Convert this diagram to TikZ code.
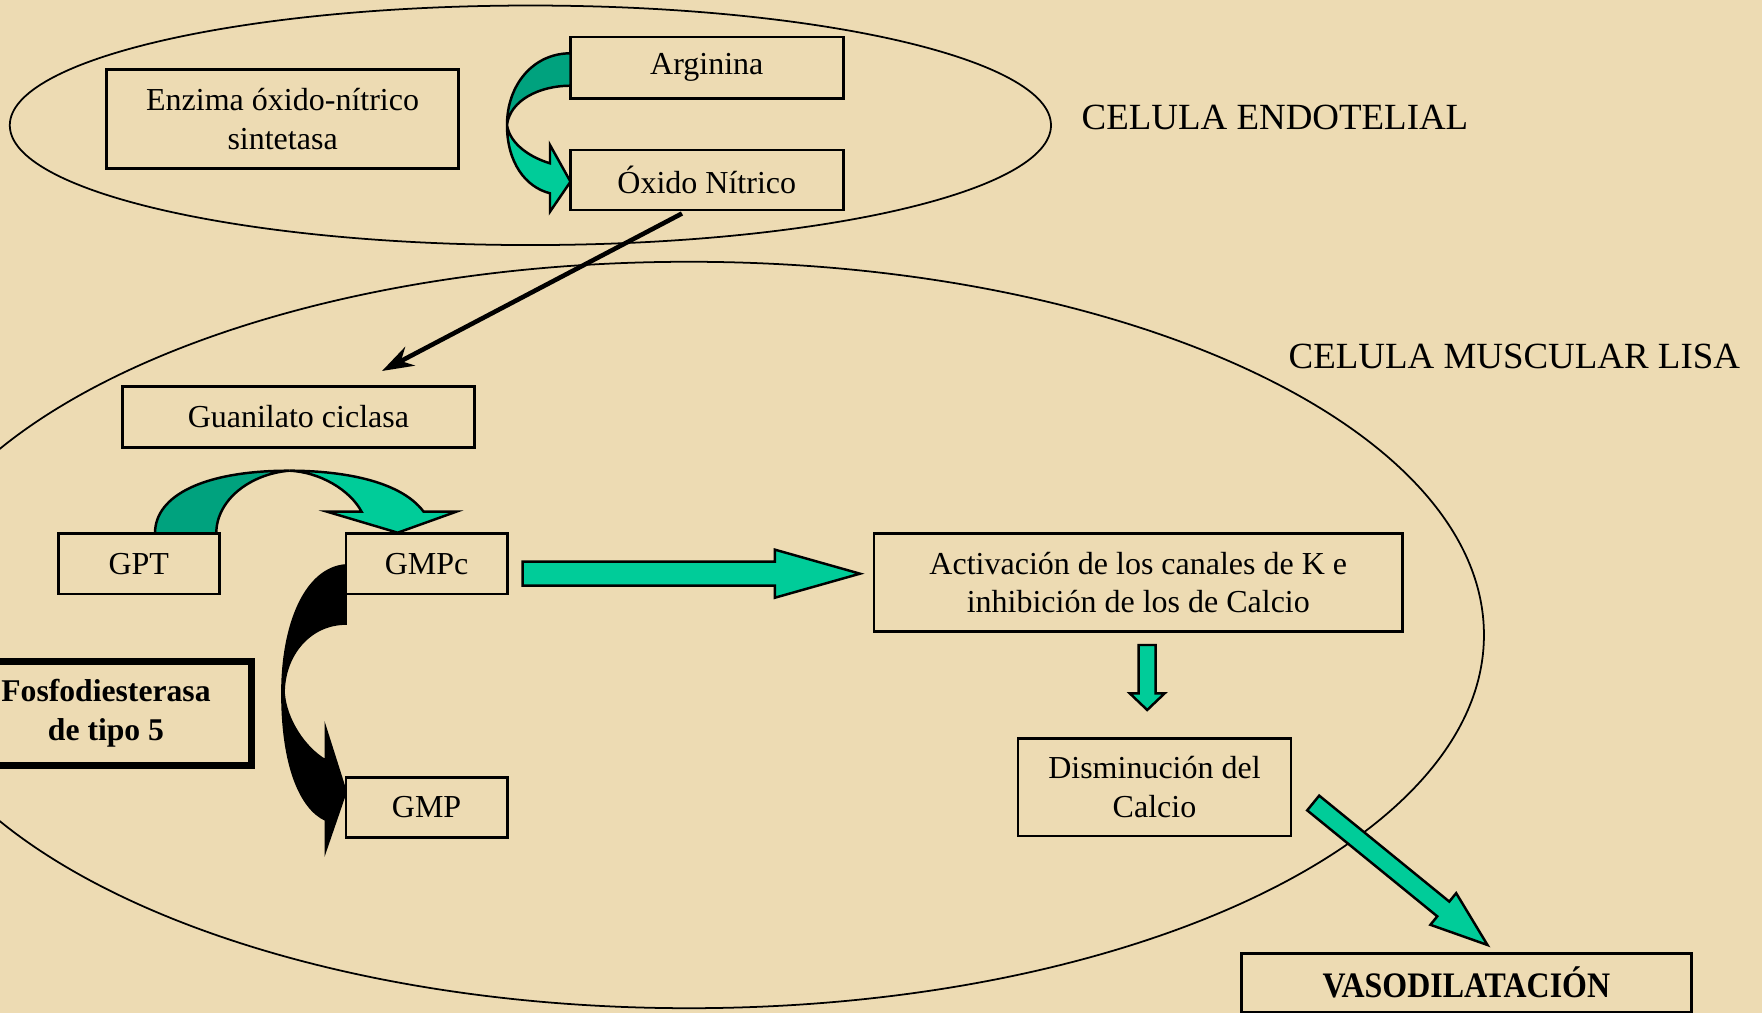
\documentclass[tikz,border=0pt]{standalone}
\usepackage{fontspec}
\setmainfont{Liberation Serif}
\usepackage{graphicx}
\usetikzlibrary{arrows.meta,calc}
\definecolor{parchment}{HTML}{EDDBB3}
\definecolor{darkteal}{HTML}{00A27E}
\definecolor{lightteal}{HTML}{00CC99}

% straight block arrow: style, tail, tip, shaft half width, head half width, head length
\newcommand{\blockarrow}[6]{%
  \coordinate (ba-h) at ($(#3)!#6!(#2)$);
  \filldraw[#1] ($(#2)!#4!90:(#3)$) -- ($(ba-h)!#4!90:(#3)$) -- ($(ba-h)!#5!90:(#3)$)
    -- (#3) -- ($(ba-h)!#5!-90:(#3)$) -- ($(ba-h)!#4!-90:(#3)$) -- ($(#2)!#4!-90:(#3)$) -- cycle;}

\begin{document}
\begin{tikzpicture}[x=0.01cm, y=-0.01cm,
  every node/.style={font=\fontsize{9.1}{11}\selectfont},
  box/.style={draw, line width=0.8pt, align=center, inner sep=0pt},
  celllabel/.style={anchor=west, inner sep=0pt, font=\fontsize{10.5}{12}\selectfont},
  cellwall/.style={line width=0.5pt},
  fatarrow/.style={fill=lightteal, draw=black, line width=0.7pt, line join=miter},
  backarrow/.style={fill=darkteal, draw=black, line width=0.7pt}]
  \useasboundingbox (0,0) rectangle (1762,1013);
  \clip (0,0) rectangle (1762,1013);
  \fill[parchment] (0,0) rectangle (1762,1013);

  % Cells
  \draw[cellwall] (530.4,125.3) ellipse [x radius=5.203cm, y radius=1.197cm];
  \draw[cellwall] (689,635) ellipse [x radius=7.945cm, y radius=3.73cm];
  \node[celllabel] (endolabel) at (1081,117) {CELULA ENDOTELIAL};
  \node[celllabel] (musclabel) at (1288,356) {CELULA MUSCULAR LISA};

  % Nodes
  \node[box, minimum width=3.52cm, minimum height=0.99cm] (enzima) at (282.6,119.2) {Enzima óxido-nítrico\\sintetasa};
  \node[box, minimum width=2.725cm, minimum height=0.61cm] (arginina) at (706.8,67.6) {Arginina};
  \node[box, minimum width=2.725cm, minimum height=0.60cm] (oxido) at (706.8,180) {Óxido Nítrico};
  \node[box, minimum width=3.517cm, minimum height=0.606cm] (guanilato) at (298.4,416.9) {Guanilato ciclasa};
  \node[box, minimum width=1.605cm, minimum height=0.607cm] (gpt) at (138.8,563.7) {GPT};
  \node[box, minimum width=1.612cm, minimum height=0.607cm] (gmpc) at (426.6,563.7) {GMPc};
  \node[box, minimum width=1.612cm, minimum height=0.604cm] (gmp) at (426.6,807.5) {GMP};
  \node[box, line width=2pt, minimum width=2.9cm, minimum height=1.035cm,
        font=\fontsize{9}{11}\selectfont\bfseries] (fosfo) at (106,713.3) {Fosfodiesterasa\\de tipo 5};
  \node[box, minimum width=5.282cm, minimum height=0.977cm] (activacion) at (1138.3,582.6) {Activación de los canales de K e\\inhibición de los de Calcio};
  \node[box, minimum width=2.73cm, minimum height=0.977cm] (disminucion) at (1154.5,787.2) {Disminución del\\Calcio};
  \node[box, minimum width=4.495cm, minimum height=0.59cm] (vaso) at (1466.4,982.7) {\fontsize{10.2}{11}\selectfont\bfseries\scalebox{0.89}[1]{VASODILATACIÓN}};

  % Arginina -> Oxido Nitrico
  \filldraw[backarrow] (570.5,53.3) .. controls (533,53.3) and (507,85) .. (507,125)
    .. controls (510,100) and (540,85.7) .. (570.5,85.7) -- cycle;
  \filldraw[fatarrow] (507,125) .. controls (507,162) and (525,187) .. (550,193.3)
    -- (550,211.7) -- (570.5,181.7) -- (550,145) -- (550,163.3)
    .. controls (532,158) and (510,145) .. (507,125) -- cycle;

  % Oxido Nitrico -> Guanilato ciclasa
  \coordinate (no-out) at (682,213.5);
  \coordinate (gc-in) at (382,371);
  \draw[line width=1.3pt, -{Stealth[length=9pt,width=6pt]}] (no-out) -- (gc-in);

  % GPT -> GMPc
  \filldraw[backarrow] (155,533.3) .. controls (155,495) and (205,470.7) .. (289.3,470.7)
    .. controls (250,474) and (216.3,500) .. (216.3,533.3) -- cycle;
  \filldraw[fatarrow] (289.3,470.7) .. controls (340,470.7) and (400,480) .. (423.6,511.7)
    -- (456.3,511.7) -- (397.7,532.7) -- (327.1,511.7) -- (361.6,511.7)
    .. controls (350,490) and (320,472) .. (289.3,470.7) -- cycle;

  % GMPc -> GMP
  \filldraw[line width=0.5pt] (346,565) .. controls (305,568) and (282,625) .. (282,693)
    .. controls (282,765) and (300,808) .. (325.4,820)
    -- (325.4,851.7) -- (346,791.7) -- (325.4,726.7) -- (325.4,760)
    .. controls (305,748) and (286,720) .. (284,693)
    .. controls (284,655) and (310,624) .. (346,624) -- cycle;

  % Straight arrows
  \coordinate (gmpc-out) at (522.7,573.7);
  \coordinate (act-in) at (860,573.7);
  \blockarrow{fatarrow}{gmpc-out}{act-in}{0.12cm}{0.24cm}{0.85cm}
  \coordinate (act-out) at (1147.2,645);
  \coordinate (dis-in) at (1147.2,710);
  \blockarrow{fatarrow}{act-out}{dis-in}{0.085cm}{0.175cm}{0.167cm}
  \coordinate (dis-out) at (1313.2,803);
  \coordinate (vaso-in) at (1487.5,945);
  \blockarrow{fatarrow}{dis-out}{vaso-in}{0.095cm}{0.204cm}{0.57cm}
\end{tikzpicture}
\end{document}
